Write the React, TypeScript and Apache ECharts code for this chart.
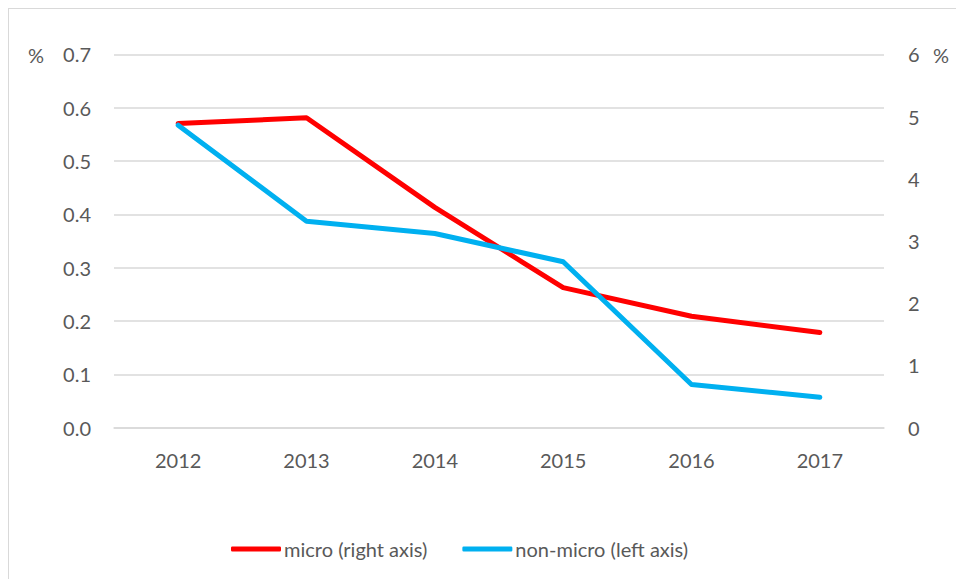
import React, { useEffect, useRef } from "react";
import * as echarts from "echarts";

const years = ["2012", "2013", "2014", "2015", "2016", "2017"];
const microRight = [4.89, 4.98, 3.54, 2.25, 1.79, 1.53];
const nonMicroLeft = [0.567, 0.387, 0.364, 0.311, 0.081, 0.057];
const leftTicks = { min: 0, max: 0.7, interval: 0.1 };
const rightTicks = { min: 0, max: 6, interval: 1 };

const FONT = "Lato";
const TXT = "#595959";
const GRID = "#d9d9d9";

export default function App() {
  const ref = useRef<HTMLDivElement>(null);
  useEffect(() => {
    if (!ref.current) return;
    const chart = echarts.init(ref.current, null, { renderer: "svg" });
    chart.setOption({
      animation: false,
      textStyle: { fontFamily: FONT },
      grid: { left: 105, right: 71, top: 45.3, bottom: 151.3 },
      xAxis: {
        type: "category",
        data: years,
        boundaryGap: true,
        axisLine: { show: true, lineStyle: { color: GRID, width: 1.5 } },
        axisTick: { show: false },
        axisLabel: { color: TXT, fontSize: 20, fontFamily: FONT, margin: 22 },
      },
      yAxis: [
        {
          type: "value",
          ...leftTicks,
          position: "left",
          axisLine: { show: false },
          axisTick: { show: false },
          splitLine: { lineStyle: { color: GRID, width: 1.5 } },
          axisLabel: {
            color: TXT,
            fontSize: 20,
            fontFamily: FONT,
            margin: 23,
            formatter: (v: number) => v.toFixed(1),
          },
        },
        {
          type: "value",
          ...rightTicks,
          position: "right",
          axisLine: { show: false },
          axisTick: { show: false },
          splitLine: { show: false },
          axisLabel: { color: TXT, fontSize: 20, fontFamily: FONT, margin: 24 },
        },
      ],
      legend: {
        left: 217,
        top: 525,
        itemWidth: 50,
        itemHeight: 5,
        itemGap: 35,
        icon: "roundRect",
        textStyle: { color: TXT, fontSize: 20, fontFamily: FONT, padding: [0, 0, 0, -2] },
        data: ["micro (right axis)", "non-micro (left axis)"],
      },
      graphic: [
        {
          type: "text",
          left: 19,
          top: 36,
          style: { text: "%", fill: TXT, font: `20px ${FONT}` },
        },
        {
          type: "text",
          left: 924,
          top: 36,
          style: { text: "%", fill: TXT, font: `20px ${FONT}` },
        },
      ],
      series: [
        {
          name: "micro (right axis)",
          type: "line",
          yAxisIndex: 1,
          data: microRight,
          showSymbol: false,
          symbol: "none",
          lineStyle: { color: "#ff0000", width: 5, cap: "round", join: "round" },
          itemStyle: { color: "#ff0000" },
        },
        {
          name: "non-micro (left axis)",
          type: "line",
          yAxisIndex: 0,
          data: nonMicroLeft,
          showSymbol: false,
          symbol: "none",
          lineStyle: { color: "#00b0f0", width: 5, cap: "round", join: "round" },
          itemStyle: { color: "#00b0f0" },
        },
      ],
    });
    return () => chart.dispose();
  }, []);
  return (
    <div
      style={{
        position: "fixed",
        left: 8,
        top: 8,
        width: 960,
        height: 580,
        boxSizing: "border-box",
        borderTop: "1.5px solid #d9d9d9",
        borderLeft: "1.5px solid #d9d9d9",
        overflow: "hidden",
        background: "#ffffff",
      }}
    >
      <div ref={ref} style={{ position: "absolute", left: 0, top: 0, width: 946, height: 570 }} />
    </div>
  );
}
